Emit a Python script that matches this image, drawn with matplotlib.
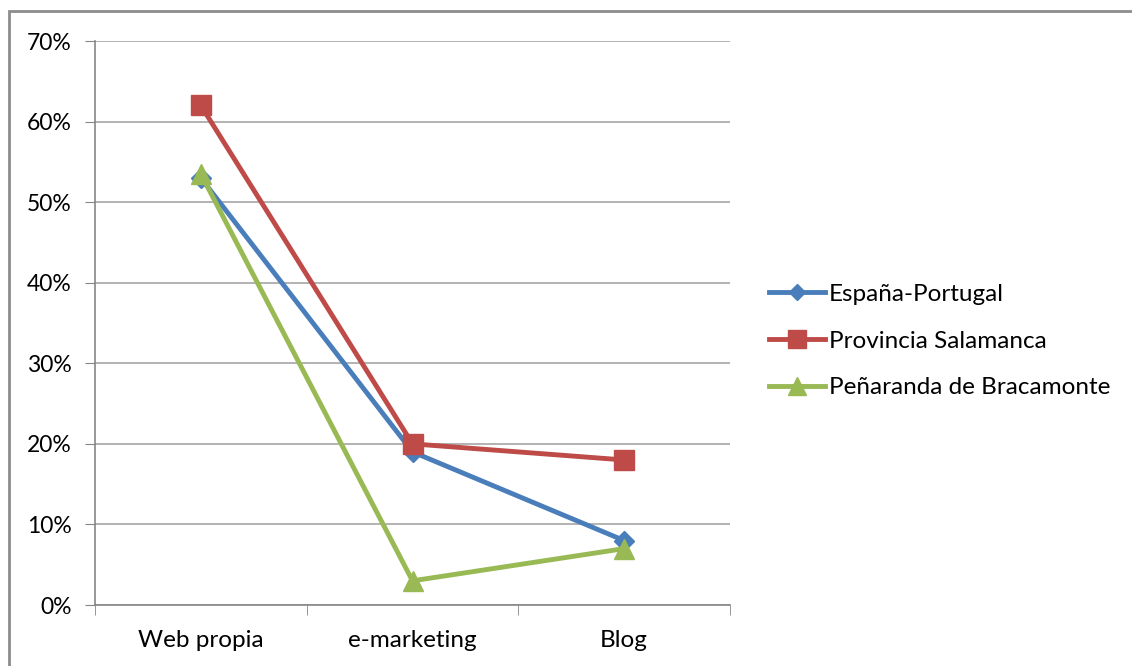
import matplotlib.pyplot as plt
from matplotlib.patches import Rectangle
from matplotlib.ticker import MultipleLocator, FuncFormatter

plt.rcParams['font.family'] = ['Lato', 'DejaVu Sans']

categorias = ['Web propia', 'e-marketing', 'Blog']
espana_portugal = [53, 19, 8]
provincia_salamanca = [62, 20, 18]
penaranda = [53.5, 3, 7]

fig = plt.figure(figsize=(11.32, 6.66), dpi=100)
# marco gris del grafico (recortado por abajo y a la derecha)
fig.patches.append(Rectangle((9 / 1132, -0.05), 1.2, 1 - 11 / 666 + 0.05,
                             transform=fig.transFigure, fill=False,
                             edgecolor='#8c8c8c', linewidth=2))

ax = fig.add_axes([95 / 1132, 1 - 605 / 666, 635 / 1132, 564 / 666])

x = [0, 1, 2]
ax.plot(x, espana_portugal, color='#4a7ebb', lw=3.5, marker='D', ms=10,
        label='España-Portugal', zorder=3)
ax.plot(x, provincia_salamanca, color='#be4b48', lw=3.5, marker='s', ms=15,
        label='Provincia Salamanca', zorder=3)
ax.plot(x, penaranda, color='#98b954', lw=3.5, marker='^', ms=15,
        label='Peñaranda de Bracamonte', zorder=4)

ax.set_xlim(-0.5, 2.5)
ax.set_ylim(0, 70)
ax.yaxis.set_major_locator(MultipleLocator(10))
ax.yaxis.set_major_formatter(FuncFormatter(lambda v, p: '%d%%' % v))
ax.grid(axis='y', color='#a6a6a6', lw=1.2)
ax.set_axisbelow(True)

ax.set_xticks(x)
ax.set_xticklabels(categorias)
ax.set_xticks([-0.5, 0.5, 1.5, 2.5], minor=True)
ax.tick_params(axis='x', which='major', length=0, pad=18, labelsize=17.5)
ax.tick_params(axis='x', which='minor', length=7, color='#868686', direction='out')
ax.tick_params(axis='y', length=7, color='#868686', labelsize=16.5, pad=10)

for s in ['top', 'right']:
    ax.spines[s].set_visible(False)
ax.spines['left'].set_color('#868686')
ax.spines['bottom'].set_color('#868686')
ax.spines['left'].set_linewidth(1.2)
ax.spines['bottom'].set_linewidth(1.2)

leg = ax.legend(loc='center left', bbox_to_anchor=(1.027, 0.468), frameon=False,
                fontsize=17.5, handlelength=2.3, handletextpad=0.15,
                labelspacing=1.06, markerscale=0.85)

fig.savefig('out.png', dpi=100)
